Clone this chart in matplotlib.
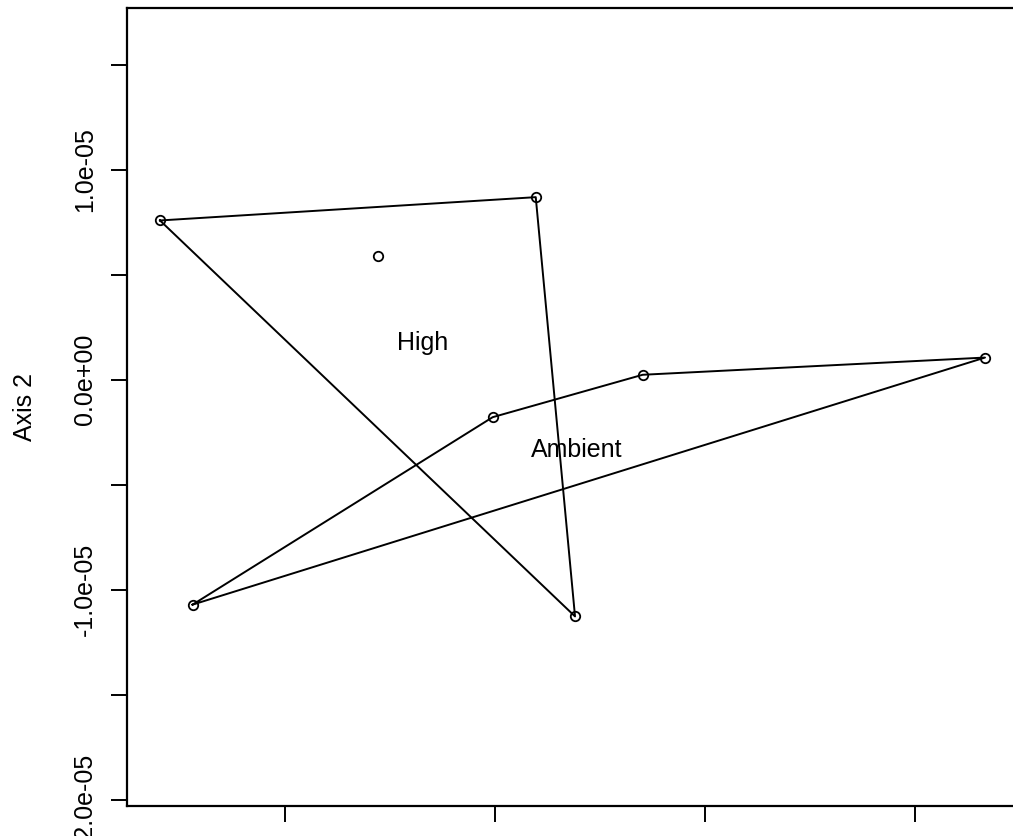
import numpy as np
import matplotlib
matplotlib.use('Agg')
import matplotlib.pyplot as plt

plt.rcParams['font.family'] = ['Liberation Sans', 'DejaVu Sans']

# site scores (Axis 1, Axis 2)
high_x = [-1.595e-05, 0.194e-05, -0.556e-05, 0.381e-05]
high_y = [0.759e-05, 0.870e-05, 0.592e-05, -1.127e-05]
amb_x = [-1.440e-05, -0.011e-05, 0.703e-05, 2.333e-05]
amb_y = [-1.071e-05, -0.178e-05, 0.024e-05, 0.106e-05]

# hull vertex order (indices into each group)
high_hull = [0, 1, 3, 0]
amb_hull = [0, 1, 2, 3, 0]

labels = ['High', 'Ambient']
label_x = [-0.343e-05, 0.390e-05]
label_y = [0.176e-05, -0.333e-05]

yticks = [-2.0e-05, -1.5e-05, -1.0e-05, -0.5e-05, 0.0, 0.5e-05, 1.0e-05, 1.5e-05]
ytick_labels = ['-2.0e-05', '', '-1.0e-05', '', '0.0e+00', '', '1.0e-05', '']
xticks = [-1.0e-05, 0.0, 1.0e-05, 2.0e-05]

fig = plt.figure(figsize=(10.13, 8.36), dpi=100)
W, H = 1013, 836
ax = fig.add_axes([127 / W, 30 / H, (1018 - 127) / W, (806 - 8) / H])

# hulls
ax.plot(np.array(high_x)[high_hull], np.array(high_y)[high_hull], color='black', lw=1.4)
ax.plot(np.array(amb_x)[amb_hull], np.array(amb_y)[amb_hull], color='black', lw=1.4)

# points
ax.plot(high_x + amb_x, high_y + amb_y, 'o', ms=6.8, mfc='none', mec='black', mew=1.3)

for lab, lx, ly in zip(labels, label_x, label_y):
    ax.text(lx, ly, lab, fontsize=18, ha='center', va='center')

ax.set_xlim(-1.752e-05, 2.490e-05)
ax.set_ylim(-2.03e-05, 1.771e-05)

ax.set_yticks(yticks)
ax.set_yticklabels(ytick_labels, rotation=90, va='center', fontsize=18)
ax.set_xticks(xticks)
ax.set_xticklabels([])
ax.tick_params(direction='out', length=11.5, width=1.4, pad=10)

for s in ax.spines.values():
    s.set_linewidth(1.6)

ax.set_ylabel('Axis 2', fontsize=18)
ax.yaxis.set_label_coords(-0.101, 0.5)

fig.savefig('out.png', dpi=100)
